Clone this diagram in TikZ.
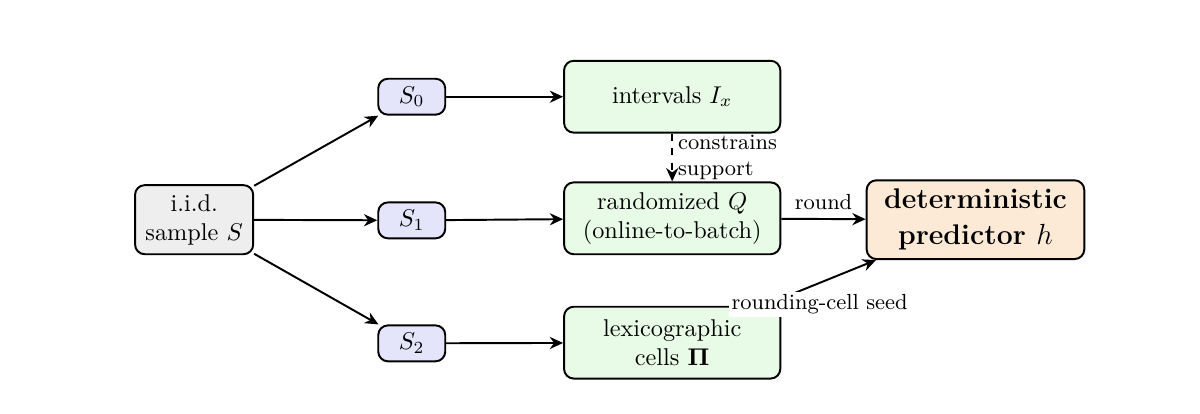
\documentclass[tikz,border=0pt]{standalone}
\definecolor{gray1}{RGB}{238, 238, 238}
\definecolor{blue1}{RGB}{228, 228, 250}
\definecolor{green1}{RGB}{232, 251, 230}
\definecolor{orange1}{RGB}{252, 233, 214}
\usepackage{tikz}
\usetikzlibrary{shapes, arrows.meta, positioning, calc}
\usepackage{amsmath, amssymb}

\begin{document}
\begin{tikzpicture}[
  box/.style={draw, thick, rounded corners=4pt, align=center, inner sep=3pt},
  split/.style={box, fill=blue1, minimum width=0.97cm, minimum height=0.52cm},
  stage/.style={box, fill=green1, minimum width=3.13cm, minimum height=1.04cm},
  flow/.style={-{Stealth[length=5.5pt, width=5pt]}, thick}
]
  \useasboundingbox (0,0) rectangle (17.37,-5.98);

  \node[box, fill=gray1, minimum width=1.71cm, minimum height=1cm] (sample) at (2.81,-3.18) {i.i.d.\\sample $S$};

  \node[split] (s0) at (5.96,-1.40) {$S_0$};
  \node[split] (s1) at (5.96,-3.19) {$S_1$};
  \node[split] (s2) at (5.96,-4.97) {$S_2$};

  \node[stage] (intervals) at (9.73,-1.40) {intervals $I_x$};
  \node[stage] (randomized) at (9.73,-3.16) {randomized $Q$\\(online-to-batch)};
  \node[stage] (cells) at (9.73,-4.96) {lexicographic\\cells $\boldsymbol{\Pi}$};

  \node[box, fill=orange1, minimum width=3.15cm, minimum height=1.14cm, font=\fontsize{11.7}{15}\selectfont\bfseries] (predictor) at (14.12,-3.18) {deterministic\\predictor $h$};

  % sample splits
  \draw[flow] (sample) -- (s0);
  \draw[flow] (sample) -- (s1);
  \draw[flow] (sample) -- (s2);
  \draw[flow] (s0) -- (intervals);
  \draw[flow] (s1) -- (randomized);
  \draw[flow] (s2) -- (cells);

  % into the predictor
  \draw[flow, dashed] (intervals) -- node[right, font=\small, align=left, inner sep=2pt] {constrains\\support} (randomized);
  \draw[flow] (randomized) -- node[above, font=\small] {round} (predictor);
  \draw[flow] (cells) -- node[below=3.5pt, font=\small, fill=white, inner sep=1pt] {rounding-cell seed} (predictor);
\end{tikzpicture}
\end{document}
